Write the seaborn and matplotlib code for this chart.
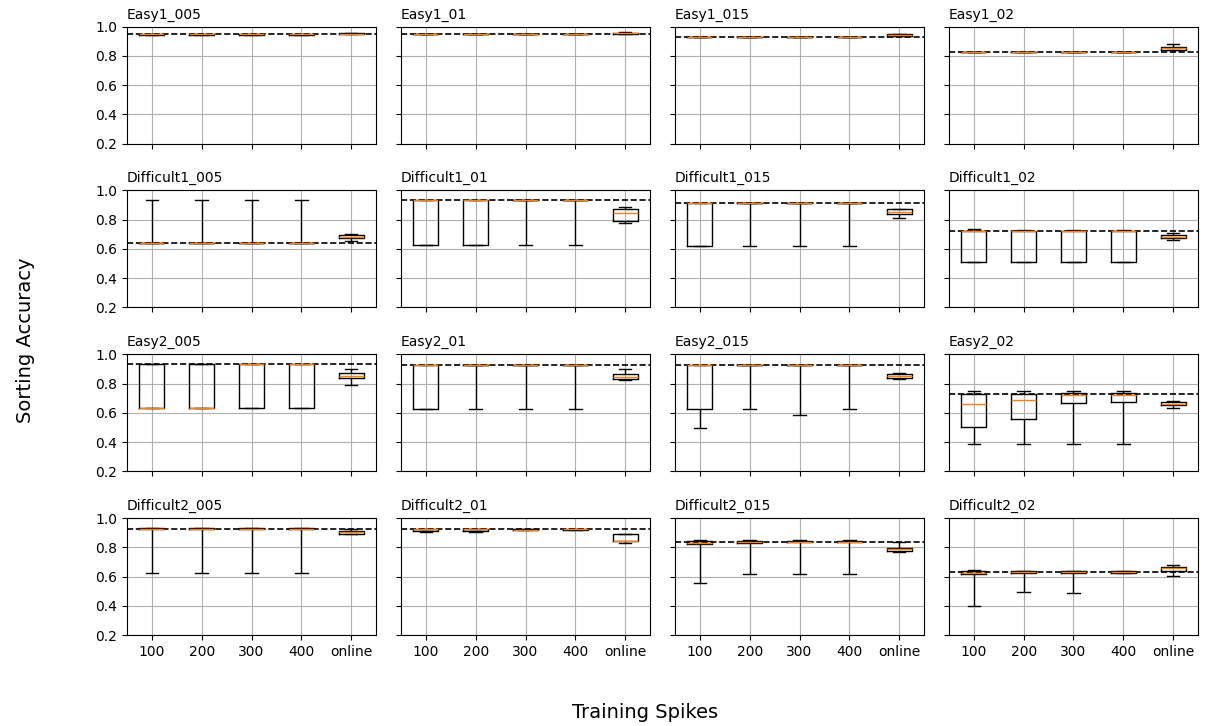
import numpy as np
import pandas as pd
import matplotlib
matplotlib.use('Agg')
import matplotlib.pyplot as plt
import seaborn as sns

# x categories
SPIKES = ['100', '200', '300', '400', 'online']

# panel titles, row by row
TITLES = [
    'Easy1_005', 'Easy1_01', 'Easy1_015', 'Easy1_02',
    'Difficult1_005', 'Difficult1_01', 'Difficult1_015', 'Difficult1_02',
    'Easy2_005', 'Easy2_01', 'Easy2_015', 'Easy2_02',
    'Difficult2_005', 'Difficult2_01', 'Difficult2_015', 'Difficult2_02',
]

# dashed reference accuracy for each panel
REFERENCE = [
    0.948, 0.950, 0.933, 0.826,
    0.641, 0.933, 0.915, 0.724,
    0.936, 0.927, 0.925, 0.728,
    0.927, 0.923, 0.836, 0.632,
]

# each box: (min, q1, median, q3, max) for 100, 200, 300, 400, online
easy1_005 = [(0.946, 0.946, 0.947, 0.948, 0.948)] * 4 + [(0.948, 0.950, 0.953, 0.958, 0.960)]
easy1_01 = [(0.948, 0.948, 0.949, 0.950, 0.950)] * 4 + [(0.950, 0.951, 0.955, 0.959, 0.966)]
easy1_015 = [(0.931, 0.931, 0.932, 0.933, 0.933)] * 4 + [(0.934, 0.934, 0.941, 0.947, 0.952)]
easy1_02 = [(0.825, 0.825, 0.826, 0.827, 0.827)] * 4 + [(0.843, 0.843, 0.853, 0.864, 0.880)]

difficult1_005 = [(0.640, 0.640, 0.640, 0.641, 0.938)] * 4 + [(0.655, 0.672, 0.683, 0.699, 0.700)]
difficult1_01 = [(0.628, 0.628, 0.932, 0.933, 0.933), (0.628, 0.628, 0.932, 0.933, 0.933),
                 (0.628, 0.932, 0.932, 0.933, 0.933), (0.628, 0.932, 0.932, 0.933, 0.933),
                 (0.777, 0.793, 0.846, 0.874, 0.885)]
difficult1_015 = [(0.621, 0.621, 0.914, 0.915, 0.915), (0.621, 0.914, 0.914, 0.915, 0.915),
                  (0.621, 0.914, 0.914, 0.915, 0.915), (0.621, 0.914, 0.914, 0.915, 0.915),
                  (0.811, 0.841, 0.853, 0.874, 0.874)]
difficult1_02 = [(0.513, 0.513, 0.720, 0.724, 0.738), (0.513, 0.513, 0.724, 0.725, 0.731),
                 (0.513, 0.513, 0.724, 0.725, 0.731), (0.513, 0.513, 0.724, 0.725, 0.731),
                 (0.662, 0.676, 0.685, 0.694, 0.706)]

easy2_005 = [(0.634, 0.634, 0.634, 0.936, 0.936), (0.634, 0.634, 0.634, 0.936, 0.936),
             (0.634, 0.634, 0.931, 0.932, 0.932), (0.634, 0.634, 0.935, 0.936, 0.936),
             (0.792, 0.835, 0.854, 0.874, 0.900)]
easy2_01 = [(0.625, 0.625, 0.926, 0.927, 0.927), (0.625, 0.926, 0.926, 0.927, 0.927),
            (0.625, 0.926, 0.926, 0.927, 0.927), (0.625, 0.926, 0.926, 0.927, 0.927),
            (0.822, 0.829, 0.845, 0.863, 0.902)]
easy2_015 = [(0.497, 0.625, 0.924, 0.925, 0.925), (0.625, 0.924, 0.924, 0.925, 0.925),
             (0.584, 0.924, 0.924, 0.925, 0.925), (0.625, 0.924, 0.924, 0.925, 0.925),
             (0.833, 0.840, 0.854, 0.867, 0.872)]
easy2_02 = [(0.387, 0.506, 0.659, 0.728, 0.749), (0.387, 0.557, 0.687, 0.728, 0.749),
            (0.387, 0.664, 0.721, 0.735, 0.746), (0.387, 0.675, 0.721, 0.733, 0.746),
            (0.632, 0.650, 0.659, 0.671, 0.680)]

difficult2_005 = [(0.623, 0.924, 0.927, 0.929, 0.929)] * 4 + [(0.891, 0.891, 0.905, 0.911, 0.925)]
difficult2_01 = [(0.905, 0.911, 0.922, 0.927, 0.927), (0.907, 0.911, 0.922, 0.926, 0.926),
                 (0.915, 0.916, 0.920, 0.924, 0.924), (0.920, 0.921, 0.922, 0.924, 0.924),
                 (0.830, 0.841, 0.845, 0.893, 0.893)]
difficult2_015 = [(0.555, 0.823, 0.832, 0.845, 0.852), (0.614, 0.827, 0.834, 0.843, 0.850),
                  (0.614, 0.834, 0.836, 0.843, 0.850), (0.614, 0.834, 0.836, 0.843, 0.848),
                  (0.768, 0.775, 0.786, 0.798, 0.836)]
difficult2_02 = [(0.398, 0.618, 0.625, 0.636, 0.648), (0.491, 0.625, 0.632, 0.636, 0.639),
                 (0.489, 0.625, 0.632, 0.636, 0.639), (0.623, 0.623, 0.630, 0.636, 0.636),
                 (0.602, 0.641, 0.655, 0.666, 0.680)]

PANELS = [
    easy1_005, easy1_01, easy1_015, easy1_02,
    difficult1_005, difficult1_01, difficult1_015, difficult1_02,
    easy2_005, easy2_01, easy2_015, easy2_02,
    difficult2_005, difficult2_01, difficult2_015, difficult2_02,
]


def panel_frame(boxes):
    """Long table of accuracies for one panel (5 values per box)."""
    rows = []
    for spikes, values in zip(SPIKES, boxes):
        for v in values:
            rows.append({'spikes': spikes, 'acc': v})
    return pd.DataFrame(rows)


fig, axes = plt.subplots(4, 4, figsize=(12.06, 7.26), dpi=100, sharex=True, sharey=True)
fig.subplots_adjust(left=0.1053, right=0.9934, top=0.9632, bottom=0.1253,
                    wspace=0.1, hspace=0.4)

for ax, title, boxes, ref in zip(axes.flat, TITLES, PANELS, REFERENCE):
    df = panel_frame(boxes)
    sns.boxplot(data=df, x='spikes', y='acc', order=SPIKES, ax=ax,
                width=0.5, whis=(0, 100), fill=False, color='black',
                linewidth=1.0, showfliers=False,
                medianprops={'color': '#ff7f0e'})
    ax.axhline(ref, color='black', linestyle='--', linewidth=1.2)
    ax.set_title(title, loc='left', fontsize=10)
    ax.set_xlabel('')
    ax.set_ylabel('')
    ax.set_ylim(0.2, 1.0)
    ax.set_yticks([0.2, 0.4, 0.6, 0.8, 1.0])
    ax.set_xlim(-0.5, 4.5)
    ax.grid(True, color='#b0b0b0', linewidth=0.8)
    ax.set_axisbelow(True)
    ax.tick_params(labelsize=10)

fig.text(0.535, 0.019, 'Training Spikes', ha='center', va='center', fontsize=14)
fig.text(0.021, 0.532, 'Sorting Accuracy', ha='center', va='center',
         rotation=90, fontsize=14)

plt.savefig('out.png', dpi=100)
plt.close()
